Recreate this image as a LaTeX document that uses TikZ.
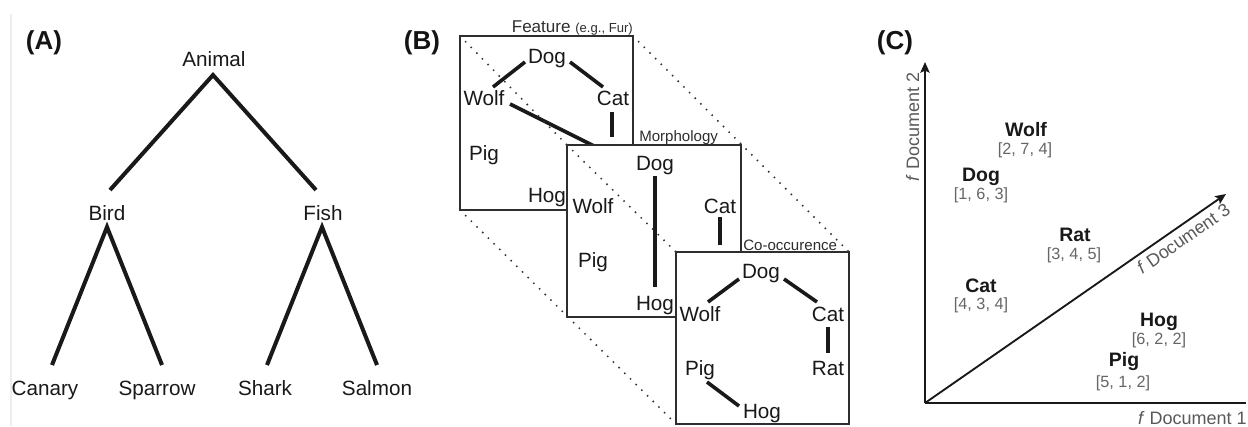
\documentclass[tikz,border=0pt]{standalone}
\usepackage{fontspec}
\setmainfont{Liberation Sans}
\usetikzlibrary{arrows.meta,calc}

\begin{document}
\begin{tikzpicture}[x=0.75pt,y=-0.75pt,
  lbl/.style={font=\fontsize{15.5}{18}\selectfont, text=black!90, inner sep=0, anchor=base},
  panel/.style={font=\fontsize{19.5}{22}\selectfont\bfseries, text=black!92, inner sep=0, anchor=base},
  tree/.style={line width=3pt, black!90, line join=miter},
  link/.style={line width=2.7pt, black!90},
  card/.style={draw=black!82, line width=1.4pt, fill=white},
  guide/.style={black!80, line width=1.6pt, dash pattern=on 0pt off 6pt, line cap=round},
  boxtitle/.style={font=\fontsize{11.3}{13}\selectfont, text=black!82, inner sep=0},
  axis/.style={line width=1.4pt, black!90},
  tip/.style={-{Stealth[length=8pt,width=7pt,inset=1.5pt]}},
  axlbl/.style={font=\fontsize{13.5}{16}\selectfont, text=black!65, inner sep=0},
  word/.style={font=\fontsize{14.6}{17}\selectfont\bfseries, text=black!90, inner sep=0, anchor=base},
  vec/.style={font=\fontsize{12.2}{14}\selectfont, text=black!60, inner sep=0, anchor=base}
]
\useasboundingbox (0,0) rectangle (1248,426);
\fill[white] (0,0) rectangle (1248,426);
\draw[black!7, line width=0.8pt] (11,14) -- (11,426);

% ---------- (A) taxonomy tree ----------
\node[panel] (pA) at (44,49) {(A)};
\node[lbl] (animal)  at (214,66)  {Animal};
\node[lbl] (bird)    at (107,220) {Bird};
\node[lbl] (fish)    at (323,220) {Fish};
\node[lbl] (canary)  at (45,395)  {Canary};
\node[lbl] (sparrow) at (157,395) {Sparrow};
\node[lbl] (shark)   at (265,395) {Shark};
\node[lbl] (salmon)  at (377,395) {Salmon};

\coordinate (a0) at (213,75);
\coordinate (b1) at (110,190);
\coordinate (f1) at (316,190);
\coordinate (b0) at (107,227);
\coordinate (f0) at (322,227);
\coordinate (l1) at (52,365);
\coordinate (l2) at (162,365);
\coordinate (l3) at (267,365);
\coordinate (l4) at (377,365);
\draw[tree] (b1) -- (a0) -- (f1);
\draw[tree] (l1) -- (b0) -- (l2);
\draw[tree] (l3) -- (f0) -- (l4);

% ---------- (B) stacked similarity graphs ----------
\node[panel] (pB) at (422,49) {(B)};
\coordinate (c1tl) at (460,36);  \coordinate (c1tr) at (633,36);
\coordinate (c1bl) at (460,210); \coordinate (c1br) at (633,210);
\coordinate (c2tl) at (567,145); \coordinate (c2br) at (741,317);
\coordinate (c3tl) at (676,252); \coordinate (c3tr) at (849,252);
\coordinate (c3bl) at (676,424); \coordinate (c3br) at (849,424);

\draw[guide] (c1tr) -- (c3tr);
\draw[guide] (c1bl) -- (c3bl);

% feature layer
\draw[card] (c1tl) rectangle (c1br);
\node[boxtitle, anchor=base east] (t1) at (633,32)
  {\fontsize{12.8}{15}\selectfont Feature {\fontsize{9.8}{11}\selectfont(e.g., Fur)}};
\node[lbl] (dog1)  at (547,63)  {Dog};
\node[lbl] (wolf1) at (484,105) {Wolf};
\node[lbl] (cat1)  at (613,105) {Cat};
\node[lbl] (pig1)  at (484,160) {Pig};
\node[lbl] (hog1)  at (547,202) {Hog};
\coordinate (e1a) at (493,87);  \coordinate (e1b) at (525,62);
\coordinate (e1c) at (570,62);  \coordinate (e1d) at (603,87);
\coordinate (e1e) at (612,112); \coordinate (e1f) at (612,137);
\coordinate (e1g) at (510,104); \coordinate (e1h) at (600,149);
\draw[link] (e1a) -- (e1b);
\draw[link] (e1c) -- (e1d);
\draw[link] (e1e) -- (e1f);
\draw[link] (e1g) -- (e1h);
\draw[guide] (c1tl) -- (c2tl);

% morphology layer
\draw[card] (c2tl) rectangle (c2br);
\node[boxtitle, anchor=base west] (t2) at (639,141) {Morphology};
\node[lbl] (dog2)  at (655,170) {Dog};
\node[lbl] (wolf2) at (593,213) {Wolf};
\node[lbl] (cat2)  at (720,213) {Cat};
\node[lbl] (pig2)  at (593,267) {Pig};
\node[lbl] (hog2)  at (655,310) {Hog};
\coordinate (e2a) at (655,176); \coordinate (e2b) at (655,287);
\coordinate (e2c) at (720,217); \coordinate (e2d) at (720,245);
\draw[link] (e2a) -- (e2b);
\draw[link] (e2c) -- (e2d);
\draw[guide] (c2tl) -- (c3tl);

% co-occurrence layer
\draw[card] (c3tl) rectangle (c3br);
\node[boxtitle, anchor=base west] (t3) at (743,250) {Co-occurence};
\node[lbl] (dog3)  at (761,278) {Dog};
\node[lbl] (wolf3) at (700,321) {Wolf};
\node[lbl] (cat3)  at (828,321) {Cat};
\node[lbl] (pig3)  at (700,375) {Pig};
\node[lbl] (rat3)  at (828,375) {Rat};
\node[lbl] (hog3)  at (762,418) {Hog};
\coordinate (e3a) at (708,302); \coordinate (e3b) at (739,279);
\coordinate (e3c) at (784,279); \coordinate (e3d) at (817,302);
\coordinate (e3e) at (828,327); \coordinate (e3f) at (828,353);
\coordinate (e3g) at (707,382); \coordinate (e3h) at (739,406);
\draw[link] (e3a) -- (e3b);
\draw[link] (e3c) -- (e3d);
\draw[link] (e3e) -- (e3f);
\draw[link] (e3g) -- (e3h);

% ---------- (C) document space ----------
\node[panel] (pC) at (895,49) {(C)};
\coordinate (o)    at (925,403);
\coordinate (ytip) at (925,62);
\coordinate (xend) at (1246,403);
\coordinate (ztip) at (1226,194);
\draw[axis, tip] (o) -- (ytip);
\draw[axis] (o) -- (xend);
\draw[axis, tip] (o) -- (ztip);

\node[axlbl, anchor=base east] (ax1) at (1247,424) {\textit{f} Document 1};
\node[axlbl, rotate=90, anchor=base] (ax2) at (919,127) {\textit{f} Document 2};
\node[axlbl, rotate=34.7, anchor=north, inner sep=4pt] (ax3) at ($(o)!0.835!(ztip)$) {\textit{f} Document 3};

\node[word] (wolfC) at (1026,136) {Wolf};
\node[vec]  (wolfV) at (1025,154) {[2, 7, 4]};
\node[word] (dogC)  at (981,181)  {Dog};
\node[vec]  (dogV)  at (981,199)  {[1, 6, 3]};
\node[word] (ratC)  at (1075,241) {Rat};
\node[vec]  (ratV)  at (1074,259) {[3, 4, 5]};
\node[word] (catC)  at (981,292)  {Cat};
\node[vec]  (catV)  at (981,309)  {[4, 3, 4]};
\node[word] (hogC)  at (1159,326) {Hog};
\node[vec]  (hogV)  at (1159,344) {[6, 2, 2]};
\node[word] (pigC)  at (1124,366) {Pig};
\node[vec]  (pigV)  at (1123,387) {[5, 1, 2]};
\end{tikzpicture}
\end{document}
